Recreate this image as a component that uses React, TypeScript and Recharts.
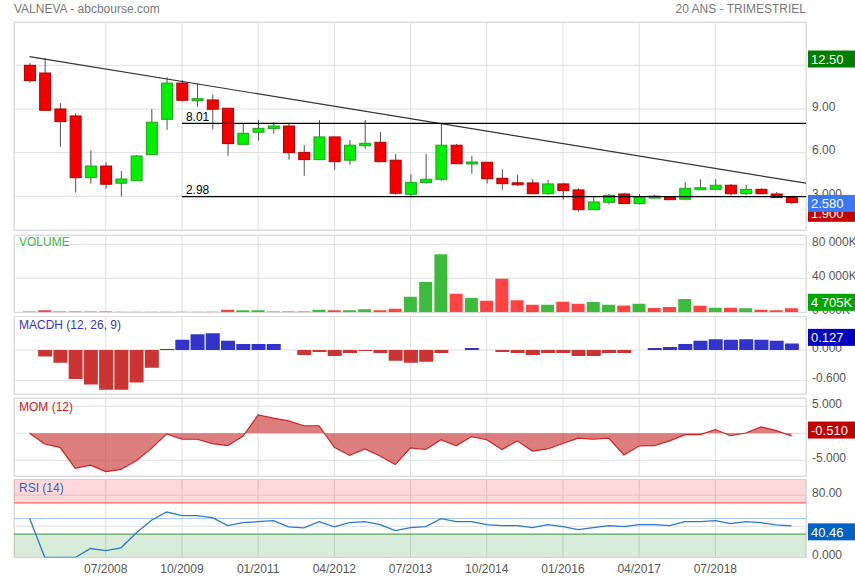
import React from 'react';
import {
  ComposedChart, Bar, Line, Area, XAxis, YAxis, CartesianGrid,
  ReferenceLine, ReferenceArea, Cell,
} from 'recharts';

// ---------- data ----------
const quarters = [
  '04/2007', '07/2007', '10/2007',
  '01/2008', '04/2008', '07/2008', '10/2008',
  '01/2009', '04/2009', '07/2009', '10/2009',
  '01/2010', '04/2010', '07/2010', '10/2010',
  '01/2011', '04/2011', '07/2011', '10/2011',
  '01/2012', '04/2012', '07/2012', '10/2012',
  '01/2013', '04/2013', '07/2013', '10/2013',
  '01/2014', '04/2014', '07/2014', '10/2014',
  '01/2015', '04/2015', '07/2015', '10/2015',
  '01/2016', '04/2016', '07/2016', '10/2016',
  '01/2017', '04/2017', '07/2017', '10/2017',
  '01/2018', '04/2018', '07/2018', '10/2018',
  '01/2019', '04/2019', '07/2019', '10/2019',
];

const open = [
  12.0, 11.47, 9.0, 8.52, 4.28, 5.08, 3.9, 4.07, 5.86, 8.29,
  10.78, 9.6, 9.62, 9.05, 6.57, 7.4, 7.65, 7.83, 6.02, 5.52,
  7.08, 5.48, 6.48, 6.71, 5.48, 3.14, 3.94, 4.17, 6.51, 5.24,
  5.34, 4.24, 3.92, 3.92, 3.18, 3.85, 3.44, 2.08, 2.59, 3.16,
  2.5, 2.92, 2.98, 2.8, 3.49, 3.48, 3.76, 3.18, 3.48, 3.16,
  2.93,
];
const high = [
  12.15, 12.5, 9.41, 8.7, 6.16, 5.33, 4.74, 5.84, 9.0, 11.18,
  10.99, 10.76, 10.0, 9.05, 8.01, 8.24, 8.09, 8.0, 6.53, 8.24,
  7.08, 6.87, 8.24, 7.42, 5.91, 4.53, 5.91, 7.97, 6.6, 5.77,
  5.34, 4.86, 4.47, 4.19, 4.12, 3.92, 3.56, 2.98, 3.16, 3.25,
  3.16, 3.11, 3.0, 3.99, 4.17, 4.17, 3.85, 3.78, 3.55, 3.3,
  2.95,
];
const low = [
  10.8, 8.9, 6.41, 3.25, 3.87, 3.52, 2.98, 4.05, 5.86, 7.56,
  9.5, 9.16, 7.6, 5.79, 6.57, 6.82, 7.3, 5.52, 4.42, 5.52,
  4.83, 5.17, 6.27, 5.38, 3.11, 2.93, 3.87, 4.07, 5.24, 4.55,
  3.87, 3.44, 3.71, 3.18, 3.11, 2.77, 1.95, 2.08, 2.45, 2.5,
  2.43, 2.9, 2.73, 2.78, 3.48, 3.48, 3.05, 3.09, 3.18, 2.9,
  2.45,
];
const close = [
  10.95, 8.91, 8.13, 4.28, 5.08, 3.83, 4.19, 5.77, 8.09, 10.78,
  9.6, 9.68, 8.98, 6.62, 7.33, 7.67, 7.83, 6.0, 5.52, 7.08,
  5.38, 6.51, 6.64, 5.38, 3.21, 3.96, 4.17, 6.51, 5.24, 5.34,
  4.21, 3.87, 3.8, 3.18, 3.85, 3.39, 2.08, 2.61, 3.07, 2.5,
  2.98, 2.97, 2.77, 3.55, 3.55, 3.76, 3.18, 3.48, 3.18, 2.91,
  2.58,
];

// volume in thousands of shares
const volume = [
  900, 2300, 1000, 1000, 800, 1000, 700, 700, 700, 700,
  700, 700, 700, 3100, 2300, 2300, 1000, 1000, 1000, 3100,
  2300, 2300, 3500, 2300, 4300, 18200, 35700, 68400, 21700, 16700,
  13600, 39500, 14300, 8900, 8900, 12400, 10100, 12000, 8900, 8100,
  10100, 5000, 6200, 15500, 7800, 5400, 5400, 4700, 3100, 2300,
  4705,
];
const volumeSide = [
  'u', 'd', 'd', 'd', 'u', 'd', 'u', 'u', 'u', 'u',
  'd', 'u', 'd', 'd', 'u', 'u', 'u', 'd', 'd', 'u',
  'd', 'u', 'u', 'd', 'd', 'u', 'u', 'u', 'd', 'u',
  'd', 'd', 'd', 'd', 'u', 'd', 'd', 'u', 'u', 'd',
  'u', 'd', 'd', 'u', 'd', 'u', 'd', 'u', 'd', 'd',
  'd',
];

const macdh = [
  0, -0.13, -0.25, -0.57, -0.68, -0.78, -0.78, -0.64, -0.35, 0.02,
  0.2, 0.31, 0.33, 0.18, 0.12, 0.12, 0.12, 0, -0.1, -0.04,
  -0.12, -0.06, -0.02, -0.06, -0.21, -0.25, -0.23, -0.06, 0, 0.04,
  0, -0.04, -0.06, -0.1, -0.06, -0.06, -0.12, -0.12, -0.06, -0.06,
  0, 0.04, 0.06, 0.12, 0.18, 0.21, 0.2, 0.21, 0.2, 0.18,
  0.13,
];

const momentum = [
  0, -1.98, -2.6, -6.5, -5.9, -7.1, -6.7, -5.1, -2.8, -0.1,
  -1.1, -1.1, -1.9, -2.3, -0.55, 3.4, 2.8, 2.3, 1.4, 1.4,
  -2.6, -4.1, -2.9, -4.2, -5.8, -2.7, -3.0, -1.2, -2.3, -0.6,
  -1.2, -3.0, -1.4, -3.3, -2.9, -1.9, -0.9, -1.1, -0.9, -4.0,
  -2.35, -2.3, -1.4, -0.25, -0.25, 0.7, -0.45, 0.05, 1.2, 0.5,
  -0.51,
];

const rsi = [
  50.3, 0, 0, 0, 11.5, 8.9, 12.4, 31.5, 47.7, 58.3,
  53.6, 53.6, 51, 40.8, 44.6, 45.9, 47.2, 39.2, 37.9, 45.9,
  39.2, 44.6, 45.9, 42.1, 34.4, 38.3, 39.5, 49.8, 45.9, 45.9,
  42.1, 40.8, 40.8, 38.3, 42.1, 39.5, 35.7, 38.3, 40.8, 39.5,
  42.1, 42.1, 40.8, 45.9, 45.9, 47.2, 43.4, 45.9, 44.6, 41.7,
  40.46,
];

const xTicks = [5, 10, 15, 20, 25, 30, 35, 40, 45];

// labels that sit fully under a value box are left empty, as in the reference
const priceTicks = [3, 6, 9, 12];
const priceTickText = ['3.000', '6.00', '9.00', ''];
const volTicks = [0, 40000, 80000];
const volTickText = ['0 000K', '40 000K', '80 000K'];
const macdTicks = [-0.6, 0];
const macdTickText = ['-0.600', '0.000'];
const momTicks = [-5, 0, 5];
const momTickText = ['-5.000', '', '5.000'];
const rsiTicks = [0, 40, 80];
const rsiTickText = ['0.000', '', '80.00'];

const supportLevels = [8.01, 2.98];
const supportStart = 10;
const trendLine = [
  { x: 0, y: 12.6 },
  { x: 50.95, y: 3.9 },
];

const priceBoxes = [
  { v: 12.5, text: '12.50', bg: '#007e00' },
  { v: 1.9, text: '1.900', bg: '#c20000' },
  { v: 2.58, text: '2.580', bg: '#3c78f5' },
];

// ---------- layout ----------
const W = 855;
const H = 580;
const LEFT = 14;
const AXIS_W = 49;
const X_DOMAIN: [number, number] = [-1.02, 50.95];
const FONT = "Arial, 'Liberation Sans', Helvetica, sans-serif";

const rows = quarters.map((q, i) => ({
  i,
  q,
  o: open[i],
  h: high[i],
  l: low[i],
  c: close[i],
  v: volume[i],
  vs: volumeSide[i],
  m: macdh[i],
  mom: momentum[i],
  rsi: rsi[i],
}));

const yTick = (ticks: number[], labels: string[]) => (p: any) => {
  const k = ticks.findIndex((t) => Math.abs(t - p.payload.value) < 1e-9);
  return (
    <text x={p.x} y={p.y - 2.5} dy="0.355em" textAnchor="start" fill="#555" fontSize={12} fontFamily={FONT}>
      {k >= 0 ? labels[k] : ''}
    </text>
  );
};

const boxLabel = (text: string, bg: string, dy: number) => (p: any) => {
  const vb = p.viewBox;
  if (!vb) return null;
  const bx = vb.x + vb.width + 2;
  const cy = vb.y + dy;
  return (
    <g>
      <rect x={bx} y={cy - 8.5} width={AXIS_W} height={17} fill={bg} />
      <text x={bx + 3} y={cy} dy="0.36em" fill="#fff" fontSize={13} fontFamily={FONT}>
        {text}
      </text>
    </g>
  );
};

const levelLabel = (text: string) => (p: any) => {
  const vb = p.viewBox;
  if (!vb) return null;
  return (
    <text x={vb.x + 4} y={vb.y - 6.5} dy="0.355em" fill="#000" fontSize={12} fontFamily={FONT}>
      {text}
    </text>
  );
};

const Candle = (props: any) => {
  const { x, y, width, height, payload } = props;
  if (!payload || height == null) return null;
  const { o, h, l, c } = payload;
  const span = h - l;
  const ppu = span > 0 ? height / span : 0;
  const cx = x + width / 2;
  const up = c >= o;
  let top = y + (h - Math.max(o, c)) * ppu;
  let bh = Math.abs(o - c) * ppu;
  if (bh < 2) {
    top -= (2 - bh) / 2;
    bh = 2;
  }
  return (
    <g>
      <line x1={cx} x2={cx} y1={y} y2={y + height} stroke="#505050" strokeWidth={1} />
      <rect
        x={x + 0.5}
        y={top}
        width={width - 1}
        height={bh}
        fill={up ? '#00f000' : '#f40000'}
        stroke={up ? '#22a022' : '#b00000'}
        strokeWidth={1}
      />
    </g>
  );
};

type PanelProps = {
  top: number;
  bottom: number;
  domain: [number, number];
  ticks: number[];
  labels: string[];
  showX?: boolean;
  overlay?: boolean;
  children?: React.ReactNode;
};

const Panel = ({ top, bottom, domain, ticks, labels, showX, overlay, children }: PanelProps) => {
  const xh = showX ? 20 : 0;
  return (
    <div style={{ position: 'absolute', left: 0, top: 0 }}>
      <ComposedChart
        width={W}
        height={H}
        data={rows}
        margin={{ top, bottom: H - bottom - xh, left: LEFT, right: 0 }}
      >
        {!overlay && <CartesianGrid stroke="#dedede" />}
        <XAxis
          type="number"
          dataKey="i"
          domain={X_DOMAIN}
          ticks={xTicks}
          interval={0}
          allowDataOverflow
          hide={!showX || overlay}
          height={xh}
          axisLine={false}
          tickLine={false}
          tickSize={5}
          tickMargin={2}
          tick={{ fill: '#555', fontSize: 12, fontFamily: FONT }}
          tickFormatter={(v: number) => quarters[v]}
        />
        <YAxis
          orientation="right"
          width={AXIS_W}
          type="number"
          domain={domain}
          ticks={ticks}
          interval={0}
          allowDataOverflow
          axisLine={false}
          tickLine={false}
          tickSize={4}
          tickMargin={2}
          tick={overlay ? false : yTick(ticks, labels)}
        />
        {children}
      </ComposedChart>
    </div>
  );
};

const frames = [
  { top: 22, bottom: 230 },
  { top: 235, bottom: 312.3 },
  { top: 316.5, bottom: 394 },
  { top: 398, bottom: 476 },
  { top: 479.5, bottom: 557.5 },
];

const titleStyle: React.CSSProperties = {
  position: 'absolute',
  fontSize: 12,
  lineHeight: '14px',
  fontFamily: FONT,
  whiteSpace: 'nowrap',
};

const PRICE_DOMAIN: [number, number] = [0.685, 14.975];
const VOL_DOMAIN: [number, number] = [0, 90940];
const MACD_DOMAIN: [number, number] = [-0.866, 0.659];
const MOM_DOMAIN: [number, number] = [-7.91, 6.54];
const RSI_DOMAIN: [number, number] = [0, 100];

export default function App() {
  return (
    <div
      style={{
        position: 'absolute',
        left: 0,
        top: 0,
        width: W,
        height: H,
        background: '#fff',
        overflow: 'hidden',
        fontFamily: FONT,
      }}
    >
      {frames.map((f, k) => (
        <div
          key={k}
          style={{
            position: 'absolute',
            left: LEFT - 0.5,
            top: f.top - 0.5,
            width: 806 - LEFT + 1,
            height: f.bottom - f.top + 1,
            border: '1px solid #d8d8d8',
            boxSizing: 'border-box',
          }}
        />
      ))}

      {/* price */}
      <Panel top={22} bottom={230} domain={PRICE_DOMAIN} ticks={priceTicks} labels={priceTickText}>
        <Bar
          dataKey={(d: any) => [d.l, d.h]}
          barSize={12}
          shape={<Candle />}
          isAnimationActive={false}
        />
        <ReferenceLine segment={trendLine} stroke="#333" strokeWidth={1.2} />
        {supportLevels.map((lv) => (
          <ReferenceLine
            key={lv}
            segment={[{ x: supportStart, y: lv }, { x: X_DOMAIN[1], y: lv }]}
            stroke="#000"
            strokeWidth={1.2}
            label={levelLabel(lv.toFixed(2))}
          />
        ))}
      </Panel>
      <Panel top={22} bottom={230} domain={PRICE_DOMAIN} ticks={priceTicks} labels={priceTickText} overlay>
        {priceBoxes.map((b) => (
          <ReferenceLine key={b.text} y={b.v} stroke="none" label={boxLabel(b.text, b.bg, 1)} />
        ))}
      </Panel>

      {/* volume */}
      <Panel top={235} bottom={312.3} domain={VOL_DOMAIN} ticks={volTicks} labels={volTickText}>
        <Bar dataKey="v" barSize={13} isAnimationActive={false}>
          {rows.map((r) => (
            <Cell key={r.i} fill={r.vs === 'u' ? '#3dbb3d' : '#ff4242'} />
          ))}
        </Bar>
      </Panel>
      <Panel top={235} bottom={312.3} domain={VOL_DOMAIN} ticks={volTicks} labels={volTickText} overlay>
        <ReferenceLine y={volume[volume.length - 1]} stroke="none" label={boxLabel('4 705K', '#00a600', -6)} />
      </Panel>

      {/* MACDH */}
      <Panel top={316.5} bottom={394} domain={MACD_DOMAIN} ticks={macdTicks} labels={macdTickText}>
        <Bar dataKey="m" barSize={14} isAnimationActive={false}>
          {rows.map((r) => (
            <Cell key={r.i} fill={r.m >= 0 ? '#3333cc' : '#cc3333'} />
          ))}
        </Bar>
      </Panel>
      <Panel top={316.5} bottom={394} domain={MACD_DOMAIN} ticks={macdTicks} labels={macdTickText} overlay>
        <ReferenceLine y={macdh[macdh.length - 1]} stroke="none" label={boxLabel('0.127', '#0000c0', -6)} />
      </Panel>

      {/* MOM */}
      <Panel top={398} bottom={476} domain={MOM_DOMAIN} ticks={momTicks} labels={momTickText}>
        <Area
          type="linear"
          dataKey="mom"
          baseValue={0}
          stroke="#cc2222"
          strokeWidth={1.2}
          fill="#c83232"
          fillOpacity={0.63}
          dot={false}
          activeDot={false}
          isAnimationActive={false}
        />
      </Panel>
      <Panel top={398} bottom={476} domain={MOM_DOMAIN} ticks={momTicks} labels={momTickText} overlay>
        <ReferenceLine y={momentum[momentum.length - 1]} stroke="none" label={boxLabel('-0.510', '#c20000', -6)} />
      </Panel>

      {/* RSI */}
      <Panel top={479.5} bottom={557.5} domain={RSI_DOMAIN} ticks={rsiTicks} labels={rsiTickText} showX>
        <ReferenceArea y1={70} y2={100} fill="#ff0000" fillOpacity={0.15} stroke="none" />
        <ReferenceArea y1={0} y2={30} fill="#008000" fillOpacity={0.15} stroke="none" />
        <ReferenceLine y={70} stroke="#ff6464" strokeWidth={1.2} />
        <ReferenceLine y={30} stroke="#5aa55a" strokeWidth={1.2} />
        <ReferenceLine y={50} stroke="#a8c8ee" strokeWidth={1.2} />
        <Line
          type="linear"
          dataKey="rsi"
          stroke="#2a78d0"
          strokeWidth={1.3}
          dot={false}
          activeDot={false}
          isAnimationActive={false}
        />
      </Panel>
      <Panel top={479.5} bottom={557.5} domain={RSI_DOMAIN} ticks={rsiTicks} labels={rsiTickText} showX overlay>
        <ReferenceLine y={rsi[rsi.length - 1]} stroke="none" label={boxLabel('40.46', '#0062c4', -6)} />
      </Panel>

      <div style={{ ...titleStyle, left: 14, top: 2, color: '#777' }}>VALNEVA - abcbourse.com</div>
      <div style={{ ...titleStyle, right: W - 806, top: 2, color: '#777' }}>20 ANS - TRIMESTRIEL</div>
      <div style={{ ...titleStyle, left: 19, top: 235, color: '#3cb93c' }}>VOLUME</div>
      <div style={{ ...titleStyle, left: 19, top: 318, color: '#3333cc' }}>MACDH (12, 26, 9)</div>
      <div style={{ ...titleStyle, left: 19, top: 399.5, color: '#cc2222' }}>MOM (12)</div>
      <div style={{ ...titleStyle, left: 19, top: 481, color: '#1a66c8' }}>RSI (14)</div>
    </div>
  );
}
